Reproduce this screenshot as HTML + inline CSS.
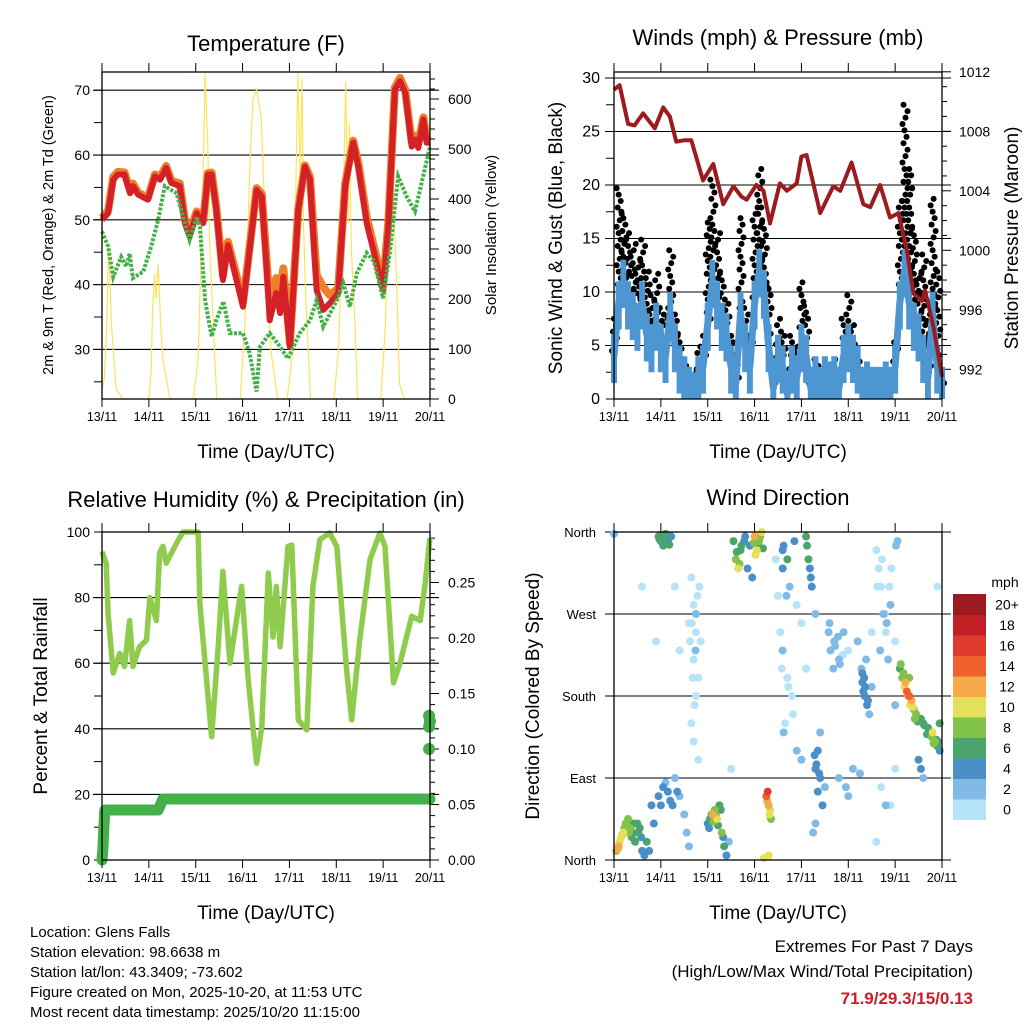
<!DOCTYPE html>
<html><head><meta charset="utf-8">
<style>
html,body{margin:0;padding:0;background:#fff;}
svg{display:block;font-family:"Liberation Sans",Arial,sans-serif;}
</style></head>
<body>
<svg id="chart" width="1024" height="1024" viewBox="0 0 1024 1024" xmlns="http://www.w3.org/2000/svg">
<rect x="0" y="0" width="1024" height="1024" fill="#fff"/>
<g id="p1"></g>
<g id="p2"></g>
<g id="p3"></g>
<g id="p4"></g>

<text x="266" y="51" font-size="22" text-anchor="middle">Temperature (F)</text>
<text x="778" y="45" font-size="22" text-anchor="middle">Winds (mph) &amp; Pressure (mb)</text>
<text x="266" y="507" font-size="22" text-anchor="middle">Relative Humidity (%) &amp; Precipitation (in)</text>
<text x="778" y="505" font-size="22" text-anchor="middle">Wind Direction</text>

<text x="266" y="458" font-size="19" text-anchor="middle">Time (Day/UTC)</text>
<text x="778" y="458" font-size="19" text-anchor="middle">Time (Day/UTC)</text>
<text x="266" y="919" font-size="19" text-anchor="middle">Time (Day/UTC)</text>
<text x="778" y="919" font-size="19" text-anchor="middle">Time (Day/UTC)</text>

<text transform="translate(53,235) rotate(-90)" font-size="14.5" text-anchor="middle">2m &amp; 9m T (Red, Orange) &amp; 2m Td (Green)</text>
<text transform="translate(496,235) rotate(-90)" font-size="15" text-anchor="middle">Solar Insolation (Yellow)</text>
<text transform="translate(562,238) rotate(-90)" font-size="19" text-anchor="middle">Sonic Wind &amp; Gust (Blue, Black)</text>
<text transform="translate(1018,238) rotate(-90)" font-size="19" text-anchor="middle">Station Pressure (Maroon)</text>
<text transform="translate(47,696) rotate(-90)" font-size="19" text-anchor="middle">Percent &amp; Total Rainfall</text>
<text transform="translate(539,696) rotate(-90)" font-size="19" text-anchor="middle">Direction (Colored By Speed)</text>

<g font-size="15">
<text x="30" y="937">Location: Glens Falls</text>
<text x="30" y="957">Station elevation: 98.6638 m</text>
<text x="30" y="977">Station lat/lon: 43.3409; -73.602</text>
<text x="30" y="997">Figure created on Mon, 2025-10-20, at 11:53 UTC</text>
<text x="30" y="1017">Most recent data timestamp: 2025/10/20 11:15:00</text>
</g>
<text x="973" y="952" font-size="17" text-anchor="end">Extremes For Past 7 Days</text>
<text x="973" y="977" font-size="17" text-anchor="end">(High/Low/Max Wind/Total Precipitation)</text>
<text x="973" y="1004" font-size="17" font-weight="bold" fill="#c8202a" text-anchor="end">71.9/29.3/15/0.13</text>
</svg>
<script>
// ---------- DATA ----------
const dayLabels = ["13/11","14/11","15/11","16/11","17/11","18/11","19/11","20/11"];
const tempDays = [0,0.13,0.24,0.34,0.48,0.6,0.66,0.77,0.98,1.13,1.24,1.37,1.48,1.66,1.77,1.87,2.02,2.16,2.26,2.34,2.44,2.58,2.69,2.87,3.01,3.3,3.41,3.51,3.58,3.72,3.8,3.87,4.01,4.19,4.33,4.44,4.58,4.72,4.86,5.04,5.19,5.36,5.47,5.65,6.0,6.11,6.25,6.36,6.47,6.61,6.68,6.75,6.86,6.93,7.0];
const temp2m = [50,51,56.2,57,57,54.1,55.2,53.9,53.1,56.7,56.2,58,55.7,55.2,49.5,47.4,51,49.5,57,57,51.6,40.7,46.1,40.7,36.6,54.6,53.6,42.8,34.5,38.7,35.6,41.2,30.4,51.5,58.2,56.2,39.2,36.1,37.1,38.7,55.2,61.9,58.2,49.5,39.2,49,70.1,71.4,69.6,61.3,62.4,61.1,65.5,61.9,61.9];
const temp9m = [50.3,51.4,56.6,57.4,57.3,54.5,55.6,54.2,53.4,57,56.6,58.3,56,55.6,50,47.9,51.3,49.9,57.2,57.3,52,41.4,46.6,41.4,37.2,54.9,54,44,37,41,38.2,42.5,31,51.8,58.4,56.6,41.5,39.6,38.4,39.4,55.6,62.2,58.8,50.4,40,49.5,70.4,71.9,70.1,62,63,61.8,65.8,62.4,62.2];
const dewDays = [0,0.13,0.24,0.41,0.52,0.59,0.66,0.88,1.05,1.2,1.34,1.59,1.73,1.87,2.02,2.09,2.2,2.34,2.44,2.59,2.73,3.01,3.15,3.3,3.37,3.58,3.8,3.97,4.22,4.44,4.58,4.72,5.01,5.15,5.29,5.44,5.65,5.8,6.0,6.15,6.32,6.5,6.68,6.82,7.0];
const dewPoint = [48.2,45.9,41.2,44.3,42.8,44.8,41,42,45.9,50,55.2,54.1,50.5,46.9,50.5,49,37.6,32,34.5,37.4,32.5,32.5,29.4,23.5,30.4,32.5,30.4,28.6,32.5,34.5,37.6,33.5,37.6,40.2,36.6,41.8,44.9,43.6,37.9,45.4,56.7,53.6,51.3,55.7,61.3];
const solarDays = [0,0.05,0.1,0.14,0.2,0.3,0.45,0.7,0.85,1.0,1.05,1.08,1.12,1.15,1.2,1.25,1.3,1.45,1.7,1.95,2.05,2.15,2.2,2.26,2.3,2.35,2.45,2.7,2.95,3.05,3.15,3.22,3.3,3.4,3.5,3.6,3.75,3.95,4.08,4.15,4.18,4.23,4.27,4.3,4.35,4.45,4.65,4.95,5.05,5.15,5.2,5.25,5.28,5.32,5.4,5.45,5.65,5.95,6.05,6.12,6.18,6.22,6.26,6.3,6.35,6.45,7.0];
const solarVal = [20,40,150,312,150,20,0,0,0,0,60,180,250,200,270,150,80,0,0,0,80,400,652,500,300,200,0,0,0,150,450,600,619,560,300,100,0,0,100,500,652,450,640,350,200,0,0,0,100,400,635,350,550,300,150,0,0,0,150,450,545,400,300,200,30,0,0];
const windDays = [0,0.1,0.2,0.3,0.4,0.5,0.6,0.7,0.8,0.9,1.0,1.1,1.2,1.3,1.4,1.5,1.6,1.7,1.8,1.9,2.0,2.1,2.2,2.3,2.4,2.5,2.6,2.7,2.8,2.9,3.0,3.1,3.2,3.3,3.4,3.5,3.6,3.7,3.8,3.9,4.0,4.1,4.2,4.3,4.4,4.5,4.6,4.7,4.8,4.9,5.0,5.1,5.2,5.3,5.4,5.5,5.6,5.7,5.8,5.9,6.0,6.1,6.2,6.3,6.4,6.5,6.6,6.7,6.8,6.9,7.0];
const windSpeed = [4,9,11,9,8,7,9,6,5,7,5,4,8,5,3,2,1,0.5,2,3,7,11,9,7,6,3,1.5,8,5,3,9,12,10,5,1,4,3,0.5,3,2,5,4,1,2,1,2,1.5,2,1,4,5,4,3,1,1.5,1,1,1,1.5,1,3,9,12,9,7,6,4,2,8,3,1];
const windGust = [8,20,18,16,15,13,15,12,10,12,9,8,14,8,6,4,3,3,5,6,17,21,16,12,9,6,4,17,9,6,18,22,17,11,4,8,6,3,6,5,11,9,3,4,3,4,3,4,3,8,10,7,4,3,3,2,3,2,3,2,6,19,28,22,16,12,14,8,19,12,3];
const presDays = [0,0.12,0.3,0.44,0.62,0.87,1.05,1.19,1.33,1.51,1.65,1.9,2.12,2.33,2.55,2.72,2.83,3.04,3.19,3.33,3.54,3.69,3.9,4.0,4.11,4.4,4.68,4.83,5.07,5.32,5.47,5.68,5.89,6.07,6.25,6.39,6.57,6.64,6.82,7.0];
const pressure = [1010.8,1011.1,1008.5,1008.4,1009.2,1008.2,1009.6,1009,1007.3,1007.4,1007.4,1004.7,1005.8,1003.1,1004.3,1003.6,1003.4,1004.4,1004,1001.8,1004.5,1004,1004.5,1006.3,1006.4,1002.5,1004.3,1004,1005.9,1003.1,1002.9,1004.4,1002.2,1002.5,1000,997.1,996.6,997.3,994.8,991.5];
const rhDays = [0,0.09,0.13,0.24,0.38,0.48,0.59,0.66,0.8,0.95,1.02,1.16,1.23,1.3,1.37,1.59,1.73,2.05,2.09,2.34,2.48,2.58,2.73,2.98,3.12,3.3,3.41,3.55,3.65,3.72,3.8,3.97,4.05,4.19,4.37,4.5,4.65,4.86,5.01,5.22,5.33,5.5,5.72,5.93,6.04,6.22,6.36,6.61,6.79,6.89,7.0];
const rhValues = [94,90.5,75,57,63,59,73,59,65,67,80,73,93.6,95.6,90.5,96.6,100,100,78,37.6,65,88,60,83.4,55,29.5,40.7,87.5,68,83.4,65,95.6,96,42.7,39.7,83.4,97.7,99.7,95.6,58,42.7,67,91.6,99.7,95.6,54,60,74.3,73,83.4,98.2];
const rainDays = [0,0.02,0.04,0.06,1.2,1.3,7.0];
const rainTotal = [0,0.01,0.03,0.045,0.045,0.055,0.055];
const rainRecentDays = [6.98,6.98,6.98,7.0];
const rainRecent = [0.13,0.12,0.10,0.125];
const dirDays = [0.1,0.15,0.2,0.05,0.25,0.3,0.35,0.4,0.45,0.5,0.55,0.6,0.65,0.7,0.75,0.8,0.85,0.95,1.0,1.05,1.1,1.15,1.2,1.3,1.4,1.5,1.55,1.6,2.0,2.05,2.1,2.15,2.2,2.25,2.3,2.35,2.4,2.45,3.25,3.3,3.32,3.35,3.28,3.3,3.2,0.95,1.0,1.05,1.1,1.15,0.0,2.55,2.6,2.65,2.7,2.8,2.9,3.0,3.05,3.1,3.15,2.85,2.95,3.6,3.7,3.75,3.85,4.1,4.15,4.2,3.9,4.0,4.3,1.65,1.7,1.75,1.7,1.8,1.75,1.65,1.7,1.8,1.75,1.85,1.6,3.55,3.6,3.7,3.8,3.65,3.9,4.0,4.35,4.3,4.4,4.45,4.3,4.5,4.4,4.1,4.6,4.7,4.8,4.9,5.0,5.1,4.8,4.95,5.0,5.3,5.35,5.4,5.3,5.38,5.45,5.2,5.5,5.25,5.5,5.6,5.7,5.75,5.8,5.9,6.0,5.65,5.85,6.05,5.7,5.9,6.0,6.1,6.15,6.2,6.25,6.3,6.35,6.4,6.45,6.55,6.6,6.7,6.8,6.85,6.9,6.95,6.5,6.55,6.6,6.95,4.25,4.35,3.45,3.5,2.5,1.3,1.4,0.6,0.9,5.6,5.8,6.0,6.3,6.9,
 0.12,0.18,0.22,0.28,0.08,0.32,0.38,0.42,0.52,0.58,0.97,1.03,1.08,1.12,1.18,1.22,1.25,1.35,2.03,2.08,2.12,2.18,2.22,2.28,2.33,2.62,2.68,2.72,2.78,2.98,3.02,3.08,3.12,3.18,3.27,3.33,3.6,3.62,3.68,4.12,4.18,4.22,4.28,4.32,4.38,5.32,5.36,5.34,5.42,5.28,6.12,6.18,6.22,6.28,6.32,6.38,6.42,6.48,6.62,6.68,6.72,6.78,6.82,6.88,6.92,1.62,1.68,1.72,1.78,1.82,1.66,1.74,3.58,3.72,3.82,3.62,4.58,4.62,4.68,4.72,4.78,4.82,4.88,5.62,5.72,5.82,5.88,5.92,5.68,5.78,6.02];
const dirDeg = [15,25,30,10,40,45,35,30,20,40,35,10,5,20,10,60,40,70,60,80,85,75,65,90,70,50,30,15,40,45,50,55,45,60,30,15,5,20,70,60,50,45,75,5,2,355,350,345,358,350,358,350,330,320,340,355,345,355,340,350,360,320,310,340,330,300,350,355,330,310,280,260,270,310,280,250,220,200,180,150,130,110,270,240,260,250,230,200,180,150,120,110,120,100,90,60,40,80,140,210,260,240,220,250,230,100,90,80,70,195,180,170,205,220,160,240,190,95,250,340,300,270,250,280,240,320,220,350,80,60,100,210,200,190,185,180,175,165,160,155,150,145,140,130,125,150,110,100,90,120,30,75,330,290,100,300,230,300,240,20,60,170,200,300,
 20,28,35,38,12,30,25,40,30,25,352,356,348,352,346,355,60,75,35,50,42,48,38,55,25,338,325,345,350,348,335,345,355,342,65,55,320,345,290,345,320,300,115,105,95,185,190,200,175,210,215,205,195,180,170,168,155,152,148,138,142,135,128,132,130,240,200,170,290,300,260,230,210,190,160,140,250,230,210,235,245,215,225,300,330,260,300,320,230,270,345];
const dirSpeed = [12,11,10,9,9,8,8,7,6,7,6,5,5,6,5,4,4,4,4,4,3,4,4,3,3,2,2,2,4,6,12,8,10,7,8,6,4,3,14,12,10,8,16,10,10,6,5,7,6,4,3,6,8,10,6,4,4,12,10,8,11,4,4,4,6,2,4,6,6,4,1,1,2,0,1,0,1,0,1,0,1,0,2,1,0,1,2,1,0,1,2,2,4,4,4,4,3,3,2,1,2,2,3,2,1,2,2,3,2,4,4,4,4,3,3,3,2,2,1,0,1,2,1,2,1,0,2,2,1,1,0,6,8,10,14,14,12,8,8,6,6,7,10,8,6,6,4,4,2,4,3,4,1,0,1,0,0,1,0,0,2,3,8,0,
 10,9,8,7,12,8,7,6,6,5,6,6,7,5,6,5,4,4,5,7,9,8,7,6,5,6,9,7,5,8,10,7,9,6,12,11,4,5,2,6,5,4,4,4,5,4,4,4,5,3,8,9,12,13,11,10,8,7,6,6,7,9,8,6,5,0,1,0,1,0,1,2,1,1,0,2,2,3,2,3,2,2,1,0,1,2,1,0,2,1,2];
const speedBins = ["0","2","4","6","8","10","12","14","16","18","20+"];
const speedColors = ["#b5e3f8","#80bae6","#4a8fc8","#4aa56c","#80c24a","#e4e05a","#f6a94a","#ef6230","#de3b2c","#c11f26","#9b1a1e"];

// ---------- HELPERS ----------
const NS = "http://www.w3.org/2000/svg";
function mk(tag, attrs, parent){const e=document.createElementNS(NS,tag);for(const k in attrs)e.setAttribute(k,attrs[k]);parent.appendChild(e);return e;}
const DAYW = 46.857;
function xDay(x0,d){return x0 + d*DAYW;}

function frame(g, x0, y0, x1, y1){
  const r = mk('rect',{x:x0,y:y0,width:x1-x0,height:y1-y0,fill:'none',stroke:'#000','stroke-width':1.3},g);
  
  
  for(let i=0;i<=7;i++){
    const x=xDay(x0,i);
    const t=mk('line',{x1:x,x2:x,y1:y0-9,y2:y0,stroke:'#000','stroke-width':1},g);
    
    
    const b=mk('line',{x1:x,x2:x,y1:y1,y2:y1+8,stroke:'#000','stroke-width':1},g);
    
    
    const l=mk('text',{x:x,y:y1+22,'font-size':12.5,'text-anchor':'middle'},g);
    l.textContent=dayLabels[i];
    
    
  }
}
function grid(g,x0,x1,y){
  const l=mk('line',{x1:x0-9,x2:x1+9,y1:y,y2:y,stroke:'#000','stroke-width':1.1},g);
  
  
}
function ytick(g,x,y,len,label,anchor,dx,fs){
  const t=mk('line',{x1:x,x2:x+len,y1:y,y2:y,stroke:'#000','stroke-width':1},g);
  
  
  if(label!==null){
    const tx=mk('text',{x:x+dx,y:y+5,'font-size':fs||14,'text-anchor':anchor},g);
    tx.textContent=label;
    
    
  }
}
function pts(xs,ys,fx,fy){return xs.map((d,i)=>fx(d).toFixed(1)+','+fy(ys[i]).toFixed(1)).join(' ');}

// ---------- PANEL 1 ----------
(function(){
  const g=document.getElementById('p1');
  const X0=102,X1=430,Y0=72,Y1=399;
  const fx=d=>xDay(X0,d);
  const fy=t=>399-(t-22.35)*6.48;
  const fs=v=>399-v*0.5;
  [30,40,50,60,70].forEach(v=>grid(g,X0,X1,fy(v)));
  for(let v=25;v<=70;v+=5){ytick(g,X0-8,fy(v),8,v%10===0?String(v):null,'end',-4,14);}
  for(let v=0;v<=640;v+=20){ytick(g,X1,fs(v),v%100===0?9:5,v%100===0?String(v):null,'start',18,14);}
  const sol=mk('polyline',{points:pts(solarDays,solarVal,fx,fs),fill:'none',stroke:'#fde35a','stroke-width':1.2},g);
  
  
  const o=mk('polyline',{points:pts(tempDays,temp9m,fx,fy),fill:'none',stroke:'#f07f2a','stroke-width':8,'stroke-linejoin':'round'},g);
  
  
  const r=mk('polyline',{points:pts(tempDays,temp2m,fx,fy),fill:'none',stroke:'#d42027','stroke-width':6,'stroke-linejoin':'round'},g);
  
  
  const dl=mk('polyline',{points:pts(dewDays,dewPoint,fx,fy),fill:'none',stroke:'#45b048','stroke-width':4,'stroke-dasharray':'3 1.5'},g);
  
  
  frame(g,X0,Y0,X1,Y1);
})();

// ---------- PANEL 2 ----------
(function(){
  const g=document.getElementById('p2');
  const X0=614,X1=942,Y0=72,Y1=399;
  const fx=d=>xDay(X0,d);
  const fy=v=>399-v*10.7;
  const fp=m=>369.3-(m-992)*14.875;
  [5,10,15,20,25,30].forEach(v=>grid(g,X0,X1,fy(v)));
  for(let v=0;v<=30;v+=2.5){ytick(g,X0-8,fy(v),8,v%5===0?String(v):null,'end',-6,16);}
  for(let m=991;m<=1012;m+=1){ytick(g,X1,fp(m),m%4===0?9:5,m%4===0?String(m):null,'start',17,14);}
  const pat=[-2,1,3,-1,2,0];
  windDays.forEach((d,i)=>{
    let k=0;
    for(let v=windSpeed[i]+0.5;v<=windGust[i];v+=0.6){
      const c=mk('circle',{cx:fx(d)+pat[(k+i)%6],cy:fy(v),r:3,fill:'#000'},g);
      
      
      k++;
    }
  });
  windDays.forEach((d,i)=>{
    const b=mk('line',{x1:fx(d),x2:fx(d),y1:fy(Math.max(0,windSpeed[i]-2.5)),y2:fy(windSpeed[i]+2),stroke:'#4d96d2','stroke-width':6},g);
    
    
  });
  const w=mk('polyline',{points:pts(windDays,windSpeed,fx,fy),fill:'none',stroke:'#4d96d2','stroke-width':7,'stroke-linejoin':'round'},g);
  
  
  const p=mk('polyline',{points:pts(presDays,pressure,fx,fp),fill:'none',stroke:'#9b1b1e','stroke-width':4,'stroke-linejoin':'round'},g);
  
  
  frame(g,X0,Y0,X1,Y1);
})();

// ---------- PANEL 3 ----------
(function(){
  const g=document.getElementById('p3');
  const X0=102,X1=430,Y0=532,Y1=860;
  const fx=d=>xDay(X0,d);
  const fy=v=>860-v*3.28;
  const fr=v=>860-v*1110;
  [20,40,60,80].forEach(v=>grid(g,X0,X1,fy(v)));
  for(let v=0;v<=100;v+=10){ytick(g,X0-8,fy(v),8,v%20===0?String(v):null,'end',-4,14);}
  for(let i=0;i<=29;i++){const v=i*0.01;ytick(g,X1,fr(v),i%5===0?9:5,i%5===0?v.toFixed(2):null,'start',18,14);}
  const rh=mk('polyline',{points:pts(rhDays,rhValues,fx,fy),fill:'none',stroke:'#8fcc4e','stroke-width':5.5,'stroke-linejoin':'round'},g);
  
  
  const rn=mk('polyline',{points:pts(rainDays,rainTotal,fx,fr),fill:'none',stroke:'#43b04a','stroke-width':11,'stroke-linejoin':'round','stroke-linecap':'round'},g);
  
  
  rainRecentDays.forEach((d,i)=>{
    const c=mk('circle',{cx:fx(d),cy:fr(rainRecent[i]),r:6,fill:'#43b04a'},g);
    
    
  });
  frame(g,X0,Y0,X1,Y1);
})();

// ---------- PANEL 4 ----------
(function(){
  const g=document.getElementById('p4');
  const X0=614,X1=942,Y0=532,Y1=860;
  const fx=d=>xDay(X0,d);
  const fy=deg=>860-deg*0.9111;
  const names=["North","East","South","West","North"];
  [0,90,180,270,360].forEach((v,i)=>{
    grid(g,X0,X1,fy(v));
    const t=mk('text',{x:X0-18,y:fy(v)+5,'font-size':13,'text-anchor':'end'},g);
    t.textContent=names[i];
    
    
  });
  const order=dirDays.map((d,i)=>i).sort((a,b)=>dirSpeed[a]-dirSpeed[b]);
  order.forEach(i=>{
    const bin=Math.min(10,Math.floor(dirSpeed[i]/2));
    const c=mk('circle',{cx:fx(dirDays[i]),cy:fy(dirDeg[i]),r:4,fill:speedColors[bin]},g);
    
    
  });
  frame(g,X0,Y0,X1,Y1);
  // colorbar
  const bx=953,by=594,bw=33,bh=20.5;
  const mph=mk('text',{x:1005,y:587,'font-size':14,'text-anchor':'middle'},g);
  mph.textContent='mph';
  
  
  for(let i=0;i<speedBins.length;i++){
    const y=by+(10-i)*bh;
    const r=mk('rect',{x:bx,y:y,width:bw,height:bh+0.5,fill:speedColors[i]},g);
    
    
    const t=mk('text',{x:1007,y:y+bh/2+5,'font-size':14,'text-anchor':'middle'},g);
    t.textContent=speedBins[i];
    
    
  }
})();
</script>
</body></html>
